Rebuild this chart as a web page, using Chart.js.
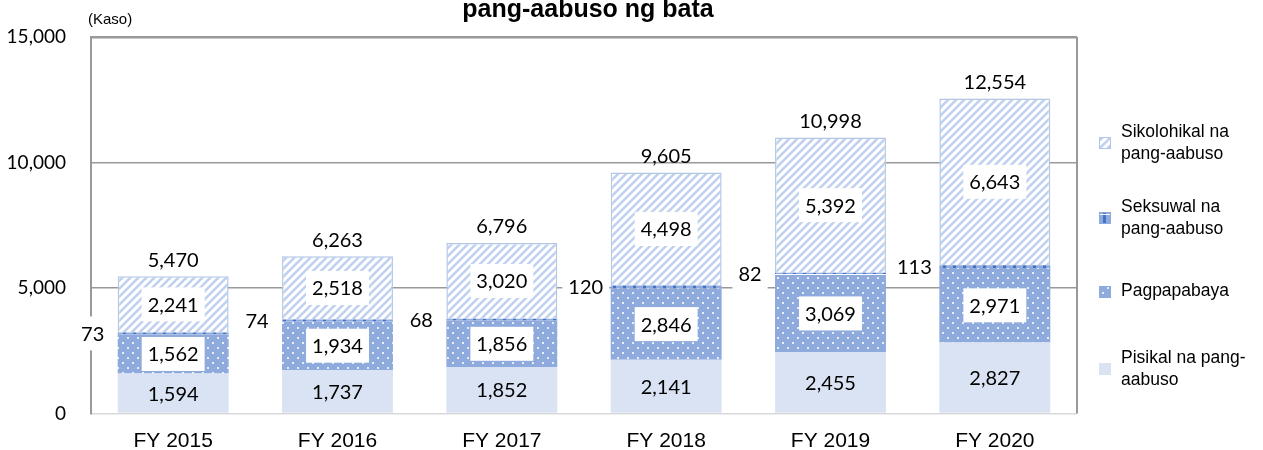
<!DOCTYPE html>
<html>
<head>
<meta charset="utf-8">
<script src="https://cdn.jsdelivr.net/npm/chart.js@4/dist/chart.umd.min.js"></script>
<style>
  body { margin: 0; background: #fff; }
  #wrap { width: 1263px; height: 450px; }
</style>
</head>
<body>
<div id="wrap"><canvas id="myChart" width="1263" height="450"></canvas></div>
<script>
var categories = ['FY 2015', 'FY 2016', 'FY 2017', 'FY 2018', 'FY 2019', 'FY 2020'];
var pisikal = [1594, 1737, 1852, 2141, 2455, 2827];
var pagpapabaya = [1562, 1934, 1856, 2846, 3069, 2971];
var seksuwal = [73, 74, 68, 120, 82, 113];
var sikolohikal = [2241, 2518, 3020, 4498, 5392, 6643];
var yTicks = [0, 5000, 10000, 15000];
var seriesNames = ['Pisikal na pang-aabuso', 'Pagpapabaya', 'Seksuwal na pang-aabuso', 'Sikolohikal na pang-aabuso'];

var totals = categories.map(function (c, i) {
  return pisikal[i] + pagpapabaya[i] + seksuwal[i] + sikolohikal[i];
});

function fmt(n) { return n.toLocaleString('en-US'); }

// fill patterns
function makeTile(size, draw) {
  var c = document.createElement('canvas');
  c.width = size; c.height = size;
  var g = c.getContext('2d');
  draw(g, size);
  return document.getElementById('myChart').getContext('2d').createPattern(c, 'repeat');
}

var stripes = makeTile(8, function (g, s) {
  g.fillStyle = '#ffffff';
  g.fillRect(0, 0, s, s);
  g.strokeStyle = '#c0d1ee';
  g.lineWidth = 2.6;
  g.beginPath();
  g.moveTo(-2, s + 2); g.lineTo(s + 2, -2);
  g.moveTo(-2, 2); g.lineTo(2, -2);
  g.moveTo(s - 2, s + 2); g.lineTo(s + 2, s - 2);
  g.stroke();
});

var dots = makeTile(10, function (g, s) {
  g.fillStyle = '#8faadc';
  g.fillRect(0, 0, s, s);
  g.fillStyle = '#e8eef9';
  g.fillRect(2, 2, 2, 2);
  g.fillRect(7, 7, 2, 2);
});

var dashes = makeTile(10, function (g, s) {
  g.fillStyle = '#8faadc';
  g.fillRect(0, 0, s, s);
  g.fillStyle = '#4472c4';
  g.fillRect(3, 0, 3, s);
  g.fillStyle = '#ffffff';
  g.fillRect(0, 4, s, 1);
});

var numFont = '20px Lato';

function boxText(ctx, text, x, y, box) {
  ctx.font = numFont;
  var w = ctx.measureText(text).width;
  if (box) {
    ctx.fillStyle = '#ffffff';
    ctx.fillRect(x - w / 2 - 6, y - 17, w + 12, 34);
  }
  ctx.fillStyle = '#000';
  ctx.textAlign = 'center';
  ctx.textBaseline = 'middle';
  ctx.fillText(text, x, y + 1);
}

var labelsPlugin = {
  id: 'labels',
  afterDatasetsDraw: function (chart) {
    var ctx = chart.ctx;
    var area = chart.chartArea;
    ctx.save();
    // right frame line
    ctx.strokeStyle = '#999';
    ctx.lineWidth = 2;
    ctx.beginPath();
    ctx.moveTo(area.right, area.top);
    ctx.lineTo(area.right, area.bottom);
    ctx.stroke();

    chart.data.datasets.forEach(function (ds, di) {
      var meta = chart.getDatasetMeta(di);
      meta.data.forEach(function (bar, i) {
        var v = ds.data[i];
        var midY = (bar.y + bar.base) / 2;
        if (di === 0) {
          boxText(ctx, fmt(v), bar.x, midY, false);
        } else if (di === 2) {
          boxText(ctx, fmt(v), bar.x - bar.width / 2 - 25, midY, true);
        } else {
          boxText(ctx, fmt(v), bar.x, midY, true);
        }
        if (di === 3) {
          boxText(ctx, fmt(totals[i]), bar.x, bar.y - 17, false);
        }
      });
    });

    // title and unit
    ctx.fillStyle = '#000';
    ctx.textAlign = 'center';
    ctx.textBaseline = 'middle';
    ctx.font = 'bold 25px "Liberation Sans"';
    ctx.fillText('pang-aabuso ng bata', 588, 10);
    ctx.textAlign = 'left';
    ctx.font = '15px "Liberation Sans"';
    ctx.fillText('(Kaso)', 88, 20);

    // legend
    var items = [
      { fill: stripes, border: '#b4c7e7', lines: ['Sikolohikal na', 'pang-aabuso'], y: 132 },
      { fill: dashes, border: '#8faadc', lines: ['Seksuwal na', 'pang-aabuso'], y: 207 },
      { fill: dots, border: '#8faadc', lines: ['Pagpapabaya'], y: 291 },
      { fill: '#dae3f3', border: '#dae3f3', lines: ['Pisikal na pang-', 'aabuso'], y: 358 }
    ];
    ctx.font = '17.5px "Liberation Sans"';
    items.forEach(function (it) {
      var sy = it.lines.length > 1 ? it.y + 11 : it.y + 1;
      ctx.fillStyle = it.fill;
      ctx.fillRect(1099, sy - 6, 12, 12);
      ctx.strokeStyle = it.border;
      ctx.lineWidth = 1;
      ctx.strokeRect(1099.5, sy - 5.5, 11, 11);
      ctx.fillStyle = '#000';
      it.lines.forEach(function (t, k) {
        ctx.fillText(t, 1121, it.y + k * 22);
      });
    });
    ctx.restore();
  }
};

var ctx = document.getElementById('myChart').getContext('2d');
var myChart = new Chart(ctx, {
  type: 'bar',
  data: {
    labels: categories,
    datasets: [
      { label: seriesNames[0], data: pisikal, backgroundColor: '#dae3f3', borderWidth: 0 },
      { label: seriesNames[1], data: pagpapabaya, backgroundColor: dots, borderWidth: 0 },
      { label: seriesNames[2], data: seksuwal, backgroundColor: dashes, borderWidth: 0 },
      { label: seriesNames[3], data: sikolohikal, backgroundColor: stripes, borderColor: '#b4c7e7', borderWidth: 1.5, borderSkipped: 'bottom' }
    ]
  },
  options: {
    responsive: false,
    animation: false,
    layout: { padding: { top: 37, right: 186, left: 0, bottom: 0 } },
    datasets: { bar: { barPercentage: 0.675, categoryPercentage: 1 } },
    scales: {
      x: {
        stacked: true,
        grid: { display: false, drawTicks: false },
        border: { display: false },
        ticks: { color: '#000', font: { family: 'Liberation Sans', size: 21 }, padding: 15 },
        afterFit: function (s) { s.height = 36; }
      },
      y: {
        stacked: true,
        min: 0,
        max: 15000,
        afterBuildTicks: function (s) { s.ticks = yTicks.map(function (v) { return { value: v }; }); },
        grid: {
          drawTicks: false,
          color: function (c) { return c.tick && c.tick.value === 0 ? '#d9d9d9' : '#999'; },
          lineWidth: function (c) { return c.tick && c.tick.value === 15000 ? 2.5 : 1.5; }
        },
        border: { display: true, color: '#999', width: 2 },
        ticks: {
          color: '#000',
          padding: 25,
          font: { family: 'Lato', size: 19 },
          callback: function (v) { return fmt(v); }
        },
        afterFit: function (s) { s.width = 91; }
      }
    },
    plugins: {
      legend: { display: false },
      tooltip: { enabled: false }
    }
  },
  plugins: [labelsPlugin]
});
</script>
</body>
</html>
